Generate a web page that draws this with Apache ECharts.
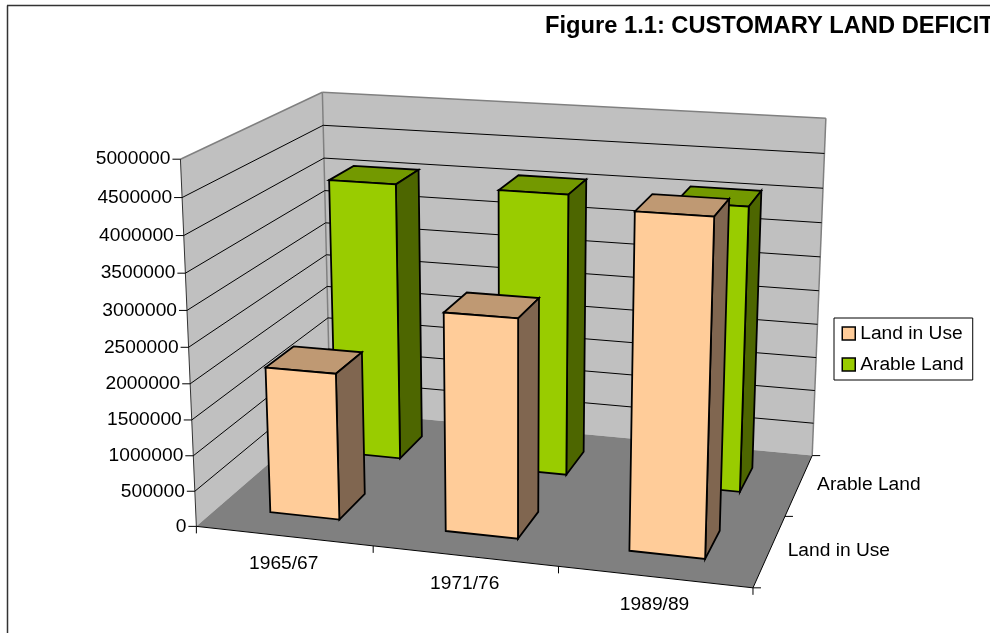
<!DOCTYPE html>
<html><head><meta charset="utf-8">
<style>html,body{margin:0;padding:0;background:#fff}#c{width:990px;height:633px}</style>
<script src="https://cdn.jsdelivr.net/npm/echarts@6/dist/echarts.min.js"></script>
</head><body><div id="c"></div>
<script>
var titleText = 'Figure 1.1: CUSTOMARY LAND DEFICIT';
var categories = ['1965/67', '1971/76', '1989/89'];
var depthLabels = ['Land in Use', 'Arable Land'];
var yTicks = [0, 500000, 1000000, 1500000, 2000000, 2500000, 3000000, 3500000, 4000000, 4500000, 5000000];
var landInUse = [2060000, 3020000, 4520000];
var arableLand = [4080000, 4090000, 4080000];

// box frame of the 3D plot: unit-cube point -> picture position (camera calibration)
var calib = [
  [0,0,0,196.7,526.7],[1,0,0,752.7,587.3],[1,0,1,812.3,456],[0,0,1,330,410],
  [0,1,0,180.3,159],[0,1,1,322.3,92.7],[1,1,1,826,118.3],
  [0,0.5,0,188.7,346.7],[1/3,0,0,373.3,546.7],[2/3,0,0,558.3,566.7],[1,0,0.5,785,516]
];
function solveCamera(pts){
  var A=[],b=[];
  pts.forEach(function(p){var X=p[0],Y=p[1],Z=p[2],u=p[3],v=p[4];
    A.push([X,Y,Z,1,0,0,0,0,-u*X,-u*Y,-u*Z]);b.push(u);
    A.push([0,0,0,0,X,Y,Z,1,-v*X,-v*Y,-v*Z]);b.push(v);});
  var n=11,M=[],i,j,k;
  for(i=0;i<n;i++){M[i]=[];for(j=0;j<=n;j++){var s=0;for(k=0;k<A.length;k++)s+=A[k][i]*(j<n?A[k][j]:b[k]);M[i][j]=s;}}
  for(i=0;i<n;i++){var m=i;for(j=i+1;j<n;j++)if(Math.abs(M[j][i])>Math.abs(M[m][i]))m=j;
    var t=M[i];M[i]=M[m];M[m]=t;
    for(j=i+1;j<n;j++){var f=M[j][i]/M[i][i];for(k=i;k<=n;k++)M[j][k]-=f*M[i][k];}}
  var x=[];for(i=n-1;i>=0;i--){var r=M[i][n];for(j=i+1;j<n;j++)r-=M[i][j]*x[j];x[i]=r/M[i][i];}
  return x;
}
var P=solveCamera(calib);
function proj(X,Y,Z){var w=P[8]*X+P[9]*Y+P[10]*Z+1;
  return [(P[0]*X+P[1]*Y+P[2]*Z+P[3])/w,(P[4]*X+P[5]*Y+P[6]*Z+P[7])/w];}

var G={left:180,top:159,width:572,height:368};
var barW=0.133, barD=0.2;
var FONT='"Liberation Sans", Arial, sans-serif';
function xFrac(api,i){return (api.coord([i,0])[0]-G.left)/G.width;}
function yFrac(api,v){return (G.top+G.height-api.coord([0,v])[1])/G.height;}
function poly(points,fill,stroke,lw){return {type:'polygon',shape:{points:points},silent:true,style:{fill:fill,stroke:stroke||null,lineWidth:lw||0,lineJoin:'miter'}};}
function line(a,b,color,lw){return {type:'line',shape:{x1:a[0],y1:a[1],x2:b[0],y2:b[1]},silent:true,style:{stroke:color,lineWidth:lw||1,fill:null}};}
function text(str,x,y,align){return {type:'text',silent:true,x:x,y:y,style:{text:str,font:'19.2px '+FONT,fill:'#000',align:align,verticalAlign:'middle'}};}

function renderFrame(){
  var c=[];
  var A=proj(0,0,0),B=proj(1,0,0),C=proj(1,0,1),D=proj(0,0,1),E=proj(0,1,0),F=proj(0,1,1),H=proj(1,1,1);
  c.push(poly([E,F,D,A],'#C0C0C0'));
  c.push(poly([F,H,C,D],'#C0C0C0'));
  c.push(poly([A,B,C,D],'#808080'));
  c.push(line(E,F,'#808080',1.5),line(F,H,'#808080',1.5),line(H,C,'#808080',1.5),line(F,D,'#808080',1.5));
  c.push(line(E,A,'#333',1),line(A,B,'#000',1),line(B,C,'#000',1),line(A,[A[0],A[1]+7],'#000',1));
  [1/3,2/3,1].forEach(function(x){var p=proj(x,0,0);c.push(line(p,[p[0],p[1]+7],'#000',1));});
  [0,0.5,1].forEach(function(z){var p=proj(1,0,z);c.push(line(p,[p[0]+8,p[1]],'#000',1));});
  return {type:'group',children:c};
}
function renderTick(params,api){
  var v=api.value(1),y=yFrac(api,v),a=proj(0,y,0),b=proj(0,y,1),c=proj(1,y,1),ch=[];
  if(v>0&&v<5000000)ch.push(line(a,b,'#000',1),line(b,c,'#000',1));
  ch.push(line([a[0]-8,a[1]],a,'#000',1));
  ch.push(text(String(v),a[0]-10,a[1],'right'));
  return {type:'group',children:ch};
}
function renderCat(params,api){
  var i=api.value(0),p=proj(xFrac(api,i),0,0);
  return text(categories[i],p[0],p[1]+27.5,'center');
}
function renderDepth(params,api){
  var i=params.dataIndex,p=proj(1,0,(i+0.5)/2);
  return text(depthLabels[i],p[0]+18,p[1],'left');
}
function barRenderer(depthIdx,cF,cT,cS){
  return function(params,api){
    var xc=xFrac(api,api.value(0)),h=yFrac(api,api.value(1));
    var zc=(depthIdx+0.5)/2,x0=xc-barW/2,x1=xc+barW/2,z0=zc-barD/2,z1=zc+barD/2;
    var k='#000',lw=1.8;
    return {type:'group',children:[
      poly([proj(x0,h,z0),proj(x1,h,z0),proj(x1,h,z1),proj(x0,h,z1)],cT,k,lw),
      poly([proj(x1,0,z0),proj(x1,0,z1),proj(x1,h,z1),proj(x1,h,z0)],cS,k,lw),
      poly([proj(x0,0,z0),proj(x1,0,z0),proj(x1,h,z0),proj(x0,h,z0)],cF,k,lw)
    ]};
  };
}
function zip(vals){return vals.map(function(v,i){return [i,v];});}
var chart=echarts.init(document.getElementById('c'),null,{renderer:'canvas'});
chart.setOption({
  animation:false,
  backgroundColor:'#fff',
  title:{text:titleText,left:545,top:14,padding:0,textStyle:{fontFamily:FONT,fontWeight:'bold',fontSize:23.7,color:'#000'}},
  legend:{data:['Land in Use','Arable Land'],orient:'vertical',left:834,top:318,padding:[6,9,6,7.5],itemWidth:13,itemHeight:13,itemGap:12,
    icon:'rect',backgroundColor:'#fff',borderColor:'#000',borderWidth:1,
    itemStyle:{borderColor:'#000',borderWidth:1.5},selectedMode:false,
    textStyle:{fontFamily:FONT,fontSize:19.2,color:'#000'}},
  grid:{left:G.left,top:G.top,width:G.width,height:G.height},
  xAxis:{type:'category',data:categories,show:false},
  yAxis:{type:'value',min:0,max:5000000,interval:500000,show:false},
  graphic:[
    {type:'line',silent:true,shape:{x1:7.5,y1:5.5,x2:7.5,y2:640},style:{stroke:'#333',lineWidth:1.5}},
    {type:'line',silent:true,shape:{x1:7,y1:5.5,x2:1000,y2:5.5},style:{stroke:'#333',lineWidth:1.5}}
  ],
  series:[
    {type:'custom',name:'frame',data:[[0,0]],renderItem:renderFrame,silent:true,z:1},
    {type:'custom',name:'yTicks',data:yTicks.map(function(v){return [0,v];}),renderItem:renderTick,silent:true,z:2},
    {type:'custom',name:'categories',data:categories.map(function(c,i){return [i,0];}),renderItem:renderCat,silent:true,z:2},
    {type:'custom',name:'depth',data:depthLabels.map(function(c,i){return [0,i];}),renderItem:renderDepth,silent:true,z:2},
    {type:'custom',name:'Arable Land',data:zip(arableLand),renderItem:barRenderer(1,'#99CC00','#739900','#4D6600'),itemStyle:{color:'#99CC00'},silent:true,z:3},
    {type:'custom',name:'Land in Use',data:zip(landInUse),renderItem:barRenderer(0,'#FFCC99','#BF9973','#806650'),itemStyle:{color:'#FFCC99'},silent:true,z:4}
  ]
});
</script></body></html>
